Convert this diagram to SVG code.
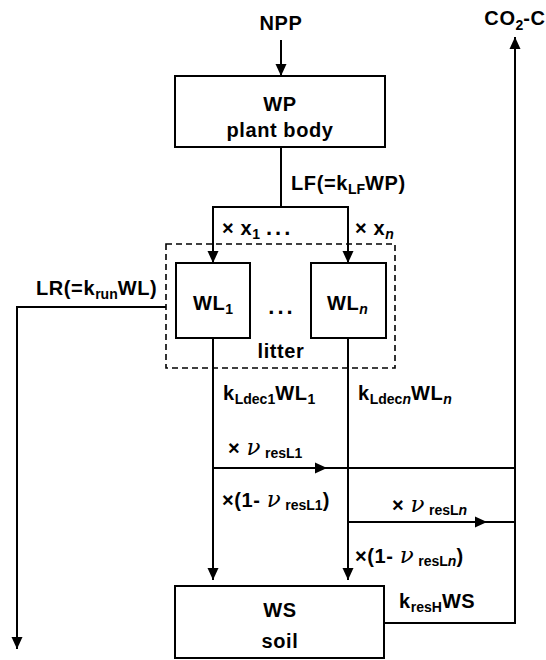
<svg xmlns="http://www.w3.org/2000/svg" width="546" height="660" viewBox="0 0 546 660">
<defs>
<marker id="ah" markerUnits="userSpaceOnUse" markerWidth="12" markerHeight="12" viewBox="0 0 12 12" refX="12" refY="6" orient="auto">
<path d="M0,0.5 L12,6 L0,11.5 Z" fill="#000"/>
</marker>
<style>
text{font-family:"Liberation Sans",Arial,sans-serif;font-weight:bold;font-size:20px;fill:#000;letter-spacing:0.6px}
.c{text-anchor:middle}
.s{font-size:14px;letter-spacing:0}
.nu{font-style:italic;font-family:"DejaVu Serif","Liberation Serif",serif;font-weight:normal;font-size:23px}
.dots{font-size:22px;letter-spacing:3px}
.box{fill:#fff;stroke:#000;stroke-width:2}
.ln{fill:none;stroke:#000;stroke-width:2}
.arr{fill:none;stroke:#000;stroke-width:2;marker-end:url(#ah)}
.dash{fill:none;stroke:#000;stroke-width:1.6;stroke-dasharray:6,4}
</style>
</defs>
<g id="connectors">
<line class="arr" x1="281" y1="40" x2="281" y2="76"/>
<polyline class="ln" points="281,147 281,207"/>
<polyline class="arr" points="281,207 213,207 213,263"/>
<polyline class="arr" points="281,207 348,207 348,263"/>
<polyline class="arr" points="166,307 17,307 17,649"/>
<line class="arr" x1="213" y1="338" x2="213" y2="580"/>
<line class="arr" x1="348" y1="338" x2="348" y2="580"/>
<line class="arr" x1="213" y1="468" x2="327" y2="468"/>
<line class="ln" x1="327" y1="468" x2="515" y2="468"/>
<line class="arr" x1="348" y1="522" x2="487" y2="522"/>
<line class="ln" x1="487" y1="522" x2="515" y2="522"/>
<polyline class="arr" points="384,623 515,623 515,37"/>
</g>
<g id="NPP"><text class="c" x="281" y="30">NPP</text></g>
<g id="CO2"><text class="c" x="515" y="25">CO<tspan class="s" dy="5">2</tspan><tspan dy="-5">-C</tspan></text></g>
<g id="WP">
<rect class="box" x="175" y="76" width="210" height="71"/>
<text class="c" x="280" y="111">WP</text>
<text class="c" x="280" y="137">plant body</text>
</g>
<g id="litter">
<rect class="dash" x="166" y="244" width="229" height="124"/>
<text class="c dots" x="282" y="314">...</text>
<text class="c" x="281" y="358">litter</text>
</g>
<g id="WL1">
<rect class="box" x="176" y="263" width="74" height="75"/>
<text x="193" y="310">WL<tspan class="s" dy="4">1</tspan></text>
</g>
<g id="WLn">
<rect class="box" x="311" y="263" width="75" height="75"/>
<text x="327" y="310">WL<tspan class="s" dy="4" font-style="italic">n</tspan></text>
</g>
<g id="WS">
<rect class="box" x="175" y="586" width="209" height="72"/>
<text class="c" x="280" y="617">WS</text>
<text class="c" x="280" y="648">soil</text>
</g>
<g id="labels">
<text x="291" y="190">LF(=k<tspan class="s" dy="4">LF</tspan><tspan dy="-4">WP)</tspan></text>
<text x="222" y="235">× x<tspan class="s" dy="4">1</tspan><tspan class="dots" dx="6" dy="-4">...</tspan></text>
<text x="355" y="235">× x<tspan class="s" dy="4" font-style="italic">n</tspan></text>
<text x="36" y="295">LR(=k<tspan class="s" dy="4">run</tspan><tspan dy="-4">WL)</tspan></text>
<text x="223" y="400">k<tspan class="s" dy="4">Ldec1</tspan><tspan dy="-4">WL</tspan><tspan class="s" dy="4">1</tspan></text>
<text x="358" y="400">k<tspan class="s" dy="4">Ldec</tspan><tspan class="s" font-style="italic">n</tspan><tspan dy="-4">WL</tspan><tspan class="s" dy="4" font-style="italic">n</tspan></text>
<text x="228" y="455">× <tspan class="nu">ν</tspan><tspan class="s" dx="4" dy="3">resL1</tspan></text>
<text x="222" y="507">×(1- <tspan class="nu">ν</tspan><tspan class="s" dx="4" dy="3">resL1</tspan><tspan dy="-3">)</tspan></text>
<text x="392" y="512">× <tspan class="nu">ν</tspan><tspan class="s" dx="4" dy="3">resL</tspan><tspan class="s" font-style="italic">n</tspan></text>
<text x="355" y="563">×(1- <tspan class="nu">ν</tspan><tspan class="s" dx="4" dy="3">resL</tspan><tspan class="s" font-style="italic">n</tspan><tspan dy="-3">)</tspan></text>
<text x="399" y="608">k<tspan class="s" dy="4">resH</tspan><tspan dy="-4">WS</tspan></text>
</g>
</svg>
